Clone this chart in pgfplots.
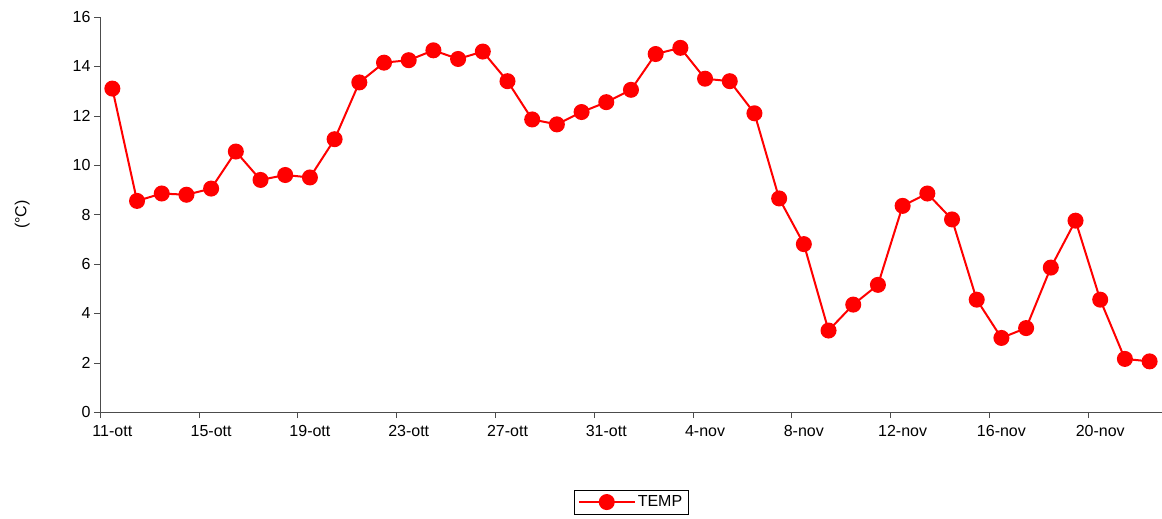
\documentclass[border=0pt]{standalone}
\usepackage{pgfplots}
\pgfplotsset{compat=1.18}
\usepackage{fontspec}
\setmainfont{Liberation Sans}
\begin{document}
\begin{tikzpicture}
\path[use as bounding box] (-100pt,-107pt) rectangle (1062pt,412pt);
\begin{axis}[
  scale only axis, width=1062pt, height=395pt,
  at={(12.35pt,0)}, anchor=origin,
  xmin=-0.5, xmax=42.5, ymin=0, ymax=16,
  ytick={0,2,...,16},
  axis x line*=bottom, axis y line*=left,
  axis line style={black!70},
  xtick={0,4,...,40},
  xticklabels={11-ott,15-ott,19-ott,23-ott,27-ott,31-ott,4-nov,8-nov,12-nov,16-nov,20-nov},
  major x tick style={draw=none},
  minor xtick={-0.5,3.5,...,43},
  minor x tick style={black!70},
  minor tick length=6pt,
  tick align=outside,
  major tick length=6pt,
  ytick style={black!70},
  ticklabel style={font=\fontsize{16}{18}\selectfont},
  xticklabel style={yshift=-4pt},
  /pgf/number format/assume math mode=true,
  ylabel={(°C)}, ylabel style={font=\fontsize{16}{18}\selectfont, yshift=36pt},
  legend style={at={(0.5,-0.228)}, anchor=center, draw=black, font=\fontsize{16}{18}\selectfont, inner sep=4pt},
  legend image code/.code={\draw[#1, mark repeat=2, mark phase=2] plot coordinates {(0pt,0pt)(28pt,0pt)(56pt,0pt)};},
  legend cell align=left,
]
\addplot[red, line width=2pt, mark=*, mark size=7pt, mark options={fill=red}] coordinates {
(0,13.1)(1,8.55)(2,8.85)(3,8.8)(4,9.05)(5,10.55)(6,9.4)(7,9.6)(8,9.5)(9,11.05)
(10,13.35)(11,14.15)(12,14.25)(13,14.65)(14,14.3)(15,14.6)(16,13.4)(17,11.85)(18,11.65)(19,12.15)
(20,12.55)(21,13.05)(22,14.5)(23,14.75)(24,13.5)(25,13.4)(26,12.1)(27,8.65)(28,6.8)(29,3.3)
(30,4.35)(31,5.15)(32,8.35)(33,8.85)(34,7.8)(35,4.55)(36,3.0)(37,3.4)(38,5.85)(39,7.75)
(40,4.55)(41,2.15)(42,2.05)};
\addlegendentry{TEMP}
\end{axis}
\end{tikzpicture}
\end{document}
